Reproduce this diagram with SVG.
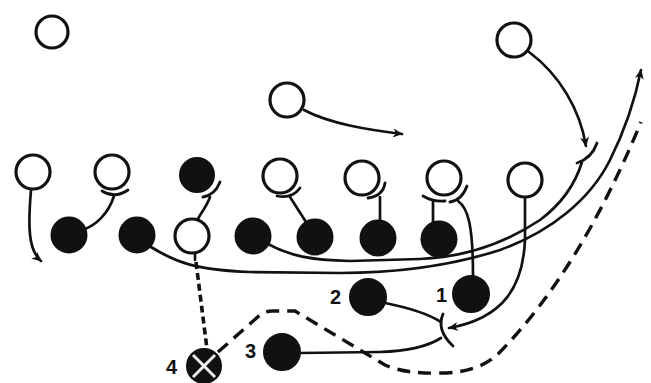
<svg xmlns="http://www.w3.org/2000/svg" width="651" height="383" viewBox="0 0 651 383">
<style>
.o{fill:#fff;stroke:#111;stroke-width:3.2}
.f{fill:#111;stroke:#111;stroke-width:2}
.l{fill:none;stroke:#111;stroke-width:2.7;stroke-linecap:round}
.b{fill:none;stroke:#111;stroke-width:2.8;stroke-linecap:round}
.d1{fill:none;stroke:#111;stroke-width:3.6;stroke-dasharray:7 4}
.d2{fill:none;stroke:#111;stroke-width:3.4;stroke-dasharray:13 8}
.t{font-family:"Liberation Sans",Arial,sans-serif;font-weight:bold;font-size:20px;fill:#111}
</style>
<defs>
<marker id="ar" markerUnits="userSpaceOnUse" markerWidth="11" markerHeight="9" refX="9" refY="4.5" orient="auto">
<path d="M0,0 L10,4.5 L0,9 L3,4.5 z" fill="#111"/>
</marker>
</defs>
<rect width="651" height="383" fill="#fff"/>
<g id="connectors">
<path class="l" d="M31,190 C28,225 28,250 41,261" marker-end="url(#ar)"/>
<path class="l" d="M304,110 C330,124 370,130 402,134" marker-end="url(#ar)"/>
<path class="l" d="M529,52 C560,75 580,110 586,146" marker-end="url(#ar)"/>
<path class="l" d="M151,247 C175,262 195,270 250,272 L340,273 C400,273 450,266 500,250 C550,232 590,200 610,160 C625,130 635,100 641,70" marker-end="url(#ar)"/>
<path class="l" d="M268,244 C290,256 310,260 350,261 L420,259 C470,257 510,240 540,220 C560,205 575,185 582,162"/>
<path class="b" d="M597,143 Q592,158 577,163"/>
<path class="l" d="M114,196 C108,215 95,225 85,229"/>
<path class="b" d="M102,191 Q115,199 128,190"/>
<path class="l" d="M210,197 C206,208 200,214 198,219"/>
<path class="b" d="M220,182 Q215,195 203,197"/>
<path class="l" d="M290,197 L306,222"/>
<path class="b" d="M277,196 Q292,199 300,188"/>
<path class="l" d="M380,197 L380,220"/>
<path class="b" d="M385,183 Q383,196 368,198"/>
<path class="l" d="M433,201 L433,222"/>
<path class="b" d="M423,196 Q433,202 445,201"/>
<path class="l" d="M458,201 C468,208 473,225 473,276"/>
<path class="b" d="M450,202 Q462,200 467,186"/>
<path class="l" d="M195,254 L195,260"/>
<path class="d1" d="M196,262 L207,349"/>
<path class="d2" d="M218,352 L260,315 Q265,311 272,311 L295,311 L385,365 Q405,374 440,373 Q480,373 500,352 Q580,270 641,122"/>
<path class="l" d="M385,303 C410,308 430,315 441,322"/>
<path class="l" d="M300,353 L380,352 C410,351 430,345 441,338"/>
<path class="b" d="M443,314 Q436,330 453,346"/>
<path class="l" d="M525,198 L525,240 C523,285 505,318 449,328" marker-end="url(#ar)"/>
</g>
<g id="n-safety"><circle class="o" cx="52" cy="32" r="16"/></g>
<g id="n-lb"><circle class="o" cx="287" cy="100" r="17"/></g>
<g id="n-hb"><circle class="o" cx="514" cy="40" r="17"/></g>
<g id="n-d1"><circle class="o" cx="33" cy="172" r="17"/></g>
<g id="n-d2"><circle class="o" cx="112" cy="172" r="17"/></g>
<g id="n-d3"><circle class="f" cx="197" cy="175" r="17"/></g>
<g id="n-d4"><circle class="o" cx="280" cy="176" r="17"/></g>
<g id="n-d5"><circle class="o" cx="362" cy="178" r="17"/></g>
<g id="n-d6"><circle class="o" cx="444" cy="178" r="17"/></g>
<g id="n-d7"><circle class="o" cx="525" cy="180" r="17"/></g>
<g id="n-o1"><circle class="f" cx="69" cy="235" r="17.5"/></g>
<g id="n-o2"><circle class="f" cx="137" cy="235" r="17.5"/></g>
<g id="n-o3"><circle class="o" cx="192" cy="236" r="17"/></g>
<g id="n-o4"><circle class="f" cx="253" cy="236" r="17.5"/></g>
<g id="n-o5"><circle class="f" cx="315" cy="237" r="17.5"/></g>
<g id="n-o6"><circle class="f" cx="378" cy="238" r="17.5"/></g>
<g id="n-o7"><circle class="f" cx="439" cy="239" r="17.5"/></g>
<g id="n-b2"><circle class="f" cx="368" cy="297" r="18"/><text class="t" x="330" y="304">2</text></g>
<g id="n-b1"><circle class="f" cx="471" cy="294" r="18"/><text class="t" x="436" y="302">1</text></g>
<g id="n-b3"><circle class="f" cx="282" cy="352" r="18"/><text class="t" x="245" y="358">3</text></g>
<g id="n-b4"><circle class="f" cx="204" cy="366" r="17"/><path d="M193,355 L215,377 M215,355 L193,377" stroke="#eee" stroke-width="3"/><text class="t" x="166" y="374">4</text></g>
</svg>
